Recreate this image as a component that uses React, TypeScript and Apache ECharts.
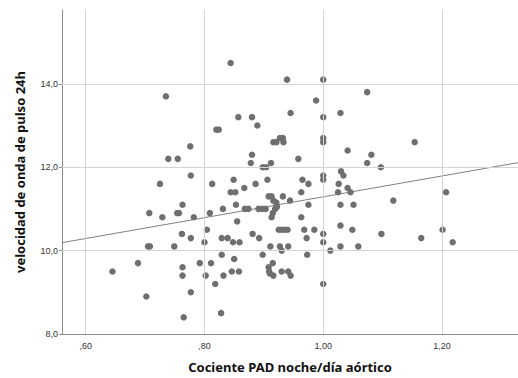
import React, { useEffect, useRef } from "react";
import * as echarts from "echarts";

const xValues: number[] = [
  0.844, 0.939, 1.0, 0.735, 1.074, 0.988, 0.857, 0.88, 0.945, 1.0, 1.029, 0.889, 0.82, 0.824, 0.776,
  0.739, 0.755, 0.88, 0.878, 0.912, 0.898, 0.904, 0.958, 0.916, 0.921, 0.927, 0.932, 0.933, 1.0, 1.0,
  1.041, 1.081, 1.074, 1.097, 1.154,
  0.777, 0.725, 0.813, 0.849, 0.886, 0.906, 0.965, 0.975, 1.0, 1.0, 1.03, 1.034, 1.026, 1.025, 1.041,
  1.046, 1.207, 1.118, 0.844, 0.852, 0.867, 0.963, 0.908, 0.913, 0.932, 0.916, 0.921, 0.944, 0.922,
  0.919, 0.915, 0.913, 0.853, 0.763, 0.975, 1.029, 1.051,
  0.868, 0.874, 0.891, 0.897, 0.903, 0.831, 0.707, 0.754, 0.757, 0.809, 0.729, 0.782, 0.963, 0.855,
  1.029, 0.804, 0.925, 0.93, 0.935, 0.94, 0.968, 0.985, 1.049, 1.201, 0.762, 0.881, 1.0, 1.098,
  0.777, 0.829, 0.839, 0.892, 0.972, 1.165, 0.8, 0.848, 0.859, 1.0, 1.218, 0.705, 0.708, 0.749,
  0.911, 0.927, 0.941, 1.029, 1.059, 0.93, 1.012, 0.829, 0.898, 0.973, 0.85, 0.688, 0.792, 0.811,
  0.915, 0.763, 0.908, 0.645, 0.846, 0.858, 0.909, 0.93, 0.941, 0.91, 0.763, 0.802, 0.832, 0.916,
  0.945, 0.818, 1.0, 0.777, 0.702, 0.828, 0.765,
];

const yValues: number[] = [
  14.5, 14.1, 14.1, 13.7, 13.8, 13.6, 13.2, 13.2, 13.3, 13.2, 13.3, 13.0, 12.9, 12.9, 12.5,
  12.2, 12.2, 12.3, 12.1, 12.1, 12.0, 12.0, 12.2, 12.6, 12.6, 12.7, 12.7, 12.6, 12.7, 12.6,
  12.4, 12.3, 12.1, 12.0, 12.6,
  11.8, 11.6, 11.6, 11.7, 11.6, 11.7, 11.7, 11.6, 11.8, 11.7, 11.9, 11.8, 11.6, 11.4, 11.5,
  11.4, 11.4, 11.2, 11.4, 11.4, 11.5, 11.4, 11.3, 11.3, 11.3, 11.2, 11.15, 11.2, 11.05,
  11.0, 10.9, 10.8, 11.1, 11.1, 11.1, 11.1, 11.1,
  11.0, 11.0, 11.0, 11.0, 11.0, 11.0, 10.9, 10.9, 10.9, 10.9, 10.8, 10.8, 10.8, 10.7,
  10.6, 10.5, 10.5, 10.5, 10.5, 10.5, 10.5, 10.5, 10.5, 10.5, 10.4, 10.4, 10.4, 10.4,
  10.3, 10.3, 10.3, 10.3, 10.3, 10.3, 10.2, 10.2, 10.2, 10.2, 10.2, 10.1, 10.1, 10.1,
  10.1, 10.1, 10.1, 10.1, 10.1, 10.0, 10.0, 9.9, 9.9, 9.9, 9.8, 9.7, 9.7, 9.7,
  9.7, 9.6, 9.6, 9.5, 9.5, 9.5, 9.5, 9.5, 9.5, 9.45, 9.4, 9.4, 9.4, 9.4,
  9.4, 9.2, 9.2, 9.0, 8.9, 8.5, 8.4,
];

const xTicks: number[] = [0.6, 0.8, 1.0, 1.2];
const yTicks: number[] = [8, 10, 12, 14];
const xRange: number[] = [0.56, 1.328];
const yRange: number[] = [8, 15.77];
const fitIntercept = 8.79;
const fitSlope = 2.5;

const fmtX = (v: number) => v.toFixed(2).replace(".", ",").replace(/^0/, "");
const fmtY = (v: number) => v.toFixed(1).replace(".", ",");

export default function App() {
  const ref = useRef<HTMLDivElement>(null);
  useEffect(() => {
    if (!ref.current) return;
    const chart = echarts.init(ref.current, null, { renderer: "svg" });
    const points = xValues.map((x, i) => [x, yValues[i]]);
    const fitLine = xRange.map((x) => [x, fitIntercept + fitSlope * x]);
    const gridColor = "#d3d3d3";
    chart.setOption({
      animation: false,
      backgroundColor: "#ffffff",
      textStyle: { fontFamily: "Liberation Sans, Arial, sans-serif" },
      grid: { left: 62, right: 0, top: 10, bottom: 43 },
      xAxis: {
        type: "value",
        min: xRange[0],
        max: xRange[1],
        splitLine: { show: false },
        axisLine: { show: true, onZero: false, lineStyle: { color: "#8c8c8c", width: 1 } },
        axisTick: { show: false },
        axisLabel: {
          customValues: xTicks,
          formatter: (v: number) => fmtX(v),
          color: "#333",
          fontSize: 9,
          margin: 7,
        },
        name: "Cociente PAD noche/día aórtico",
        nameLocation: "middle",
        nameGap: 26,
        nameTextStyle: { fontWeight: "bold", fontSize: 13, color: "#111", fontFamily: "Noto Sans" },
      },
      yAxis: {
        type: "value",
        min: yRange[0],
        max: yRange[1],
        splitLine: { show: false },
        axisLine: { show: true, onZero: false, lineStyle: { color: "#8c8c8c", width: 1 } },
        axisTick: { show: true, customValues: yTicks, length: 3, lineStyle: { color: "#8c8c8c" } },
        axisLabel: {
          customValues: yTicks,
          formatter: (v: number) => fmtY(v),
          color: "#333",
          fontSize: 9,
          margin: 4,
        },
        name: "velocidad de onda de pulso 24h",
        nameLocation: "middle",
        nameGap: 36,
        nameTextStyle: { fontWeight: "bold", fontSize: 13, color: "#111", fontFamily: "Noto Sans" },
      },
      series: [
        {
          type: "line",
          data: [],
          z: 1,
          silent: true,
          markLine: {
            silent: true,
            symbol: "none",
            label: { show: false },
            lineStyle: { color: gridColor, width: 1, type: "solid" },
            data: [
              ...xTicks.map((v) => ({ xAxis: v })),
              ...yTicks.filter((v) => v > yRange[0]).map((v) => ({ yAxis: v })),
            ],
          },
        },
        {
          type: "line",
          data: fitLine,
          z: 2,
          symbol: "none",
          silent: true,
          lineStyle: { color: "#808080", width: 1 },
        },
        {
          type: "scatter",
          data: points,
          z: 3,
          symbolSize: 6.5,
          itemStyle: { color: "#6f6f6f", opacity: 1 },
        },
      ],
    });
    return () => chart.dispose();
  }, []);
  return <div ref={ref} style={{ width: 518, height: 378, position: "absolute", left: 0, top: 0 }} />;
}
